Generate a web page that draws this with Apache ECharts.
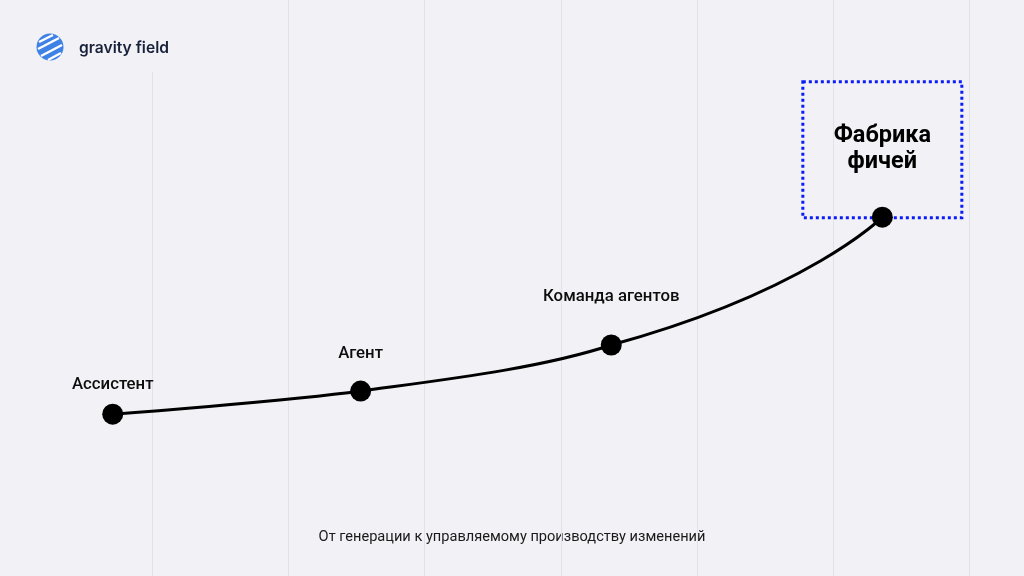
<!DOCTYPE html>
<html>
<head>
<meta charset="utf-8">
<script src="https://cdn.jsdelivr.net/npm/echarts@6/dist/echarts.min.js"></script>
<style>
html,body{margin:0;padding:0;background:#f1f1f6;}
#chart{width:1024px;height:576px;}
</style>
</head>
<body>
<div id="chart"></div>
<script>
// ---- data ----
const stages = ['Ассистент', 'Агент', 'Команда агентов', 'Фабрика\nфичей'];
const stageX = [0.71, 2.53, 4.37, 6.36];
const stageLevel = [28.1, 32.1, 40.1, 62.3];
const brandName = 'gravity field';
const caption = 'От генерации к управляемому производству изменений';

// ---- build ----
const labelGap = [10, 18, 29];
const points = stages.map((s, i) => [stageX[i], stageLevel[i]]);
const dotData = stages.map((s, i) => {
  const item = { value: points[i], name: s };
  if (i < stages.length - 1) {
    item.label = {
      show: true, position: 'top', distance: labelGap[i],
      formatter: s, color: '#0d0d0d', fontSize: 16.8, fontWeight: 500,
      fontFamily: 'Roboto', opacity: 1
    };
  }
  return item;
});
const last = stages.length - 1;
const split = stageX[last - 1];
const gridColor = '#e2e2ea';

const chart = echarts.init(document.getElementById('chart'));
chart.setOption({
  backgroundColor: '#f1f1f6',
  animation: false,
  grid: { left: 16, right: 0, top: 0, bottom: 0 },
  xAxis: {
    type: 'value', min: 0, max: 7.4, interval: 1,
    axisLine: { show: false }, axisTick: { show: false }, axisLabel: { show: false },
    splitLine: { show: true, lineStyle: { width: 1, color: ['rgba(0,0,0,0)', 'rgba(0,0,0,0)', gridColor, gridColor, gridColor, gridColor, gridColor, gridColor] } }
  },
  yAxis: {
    type: 'value', min: 0, max: 100,
    axisLine: { show: false }, axisTick: { show: false }, axisLabel: { show: false },
    splitLine: { show: false }
  },
  series: [
    {
      type: 'scatter', z: 1, silent: true,
      symbolSize: 1, itemStyle: { color: 'rgba(0,0,0,0)', opacity: 1 },
      data: [{ value: points[last], name: stages[last] }],
      label: {
        show: true, position: 'top', distance: -1, opacity: 1,
        formatter: stages[last],
        fontFamily: 'Roboto', fontWeight: 'bold', fontSize: 23.5, lineHeight: 26,
        color: '#000', align: 'center',
        width: 159, padding: [41, 0, 43, 0],
        borderColor: '#0a1cf8', borderWidth: 3, borderType: 'dotted'
      }
    },
    {
      type: 'line', z: 2, silent: true, smooth: 0.3, showSymbol: false,
      lineStyle: { color: '#000', width: 3 },
      data: points,
      markLine: {
        silent: true, symbol: 'none', label: { show: false },
        lineStyle: { color: gridColor, width: 1, type: 'solid' },
        data: [[{ coord: [1, 87.5] }, { coord: [1, 0] }]],
        z: 0
      }
    },
    {
      type: 'line', z: 2, silent: true, smooth: 0.7, showSymbol: false,
      lineStyle: { color: '#000', width: 3 },
      data: points
    },
    {
      type: 'scatter', z: 4, silent: true,
      symbol: 'circle', symbolSize: 21,
      itemStyle: { color: '#000', opacity: 1 },
      data: dotData
    }
  ],
  graphic: [
    { type: 'circle', shape: { cx: 50, cy: 47, r: 13.5 }, style: { fill: '#3f82e6' } },
    { type: 'line', shape: { x1: 39, y1: 42, x2: 53, y2: 35 }, style: { stroke: '#fff', lineWidth: 2.4 } },
    { type: 'line', shape: { x1: 38, y1: 49, x2: 59, y2: 38 }, style: { stroke: '#fff', lineWidth: 2.4 } },
    { type: 'line', shape: { x1: 41, y1: 56, x2: 62, y2: 45 }, style: { stroke: '#fff', lineWidth: 2.4 } },
    { type: 'line', shape: { x1: 48, y1: 60, x2: 61, y2: 53 }, style: { stroke: '#fff', lineWidth: 2.4 } },
    { type: 'text', left: 79, top: 40, style: { text: brandName, fill: '#18213a', font: '600 15.6px Inter' } },
    { type: 'text', left: 'center', top: 530, style: { text: caption, fill: '#1a1a1a', font: '14.6px Roboto' } }
  ]
});

// the flatter smoothing draws the curve up to the third stage, the stronger one beyond it
const w = chart.getWidth();
const cut = chart.convertToPixel({ xAxisIndex: 0 }, split) / w;
const clear = 'rgba(0,0,0,0)';
const leftPart = new echarts.graphic.LinearGradient(0, 0, w, 0, [
  { offset: 0, color: '#000' }, { offset: cut, color: '#000' },
  { offset: cut, color: clear }, { offset: 1, color: clear }], true);
const rightPart = new echarts.graphic.LinearGradient(0, 0, w, 0, [
  { offset: 0, color: clear }, { offset: cut, color: clear },
  { offset: cut, color: '#000' }, { offset: 1, color: '#000' }], true);
chart.setOption({
  series: [{}, { lineStyle: { color: leftPart } }, { lineStyle: { color: rightPart } }, {}]
});
</script>
</body>
</html>
